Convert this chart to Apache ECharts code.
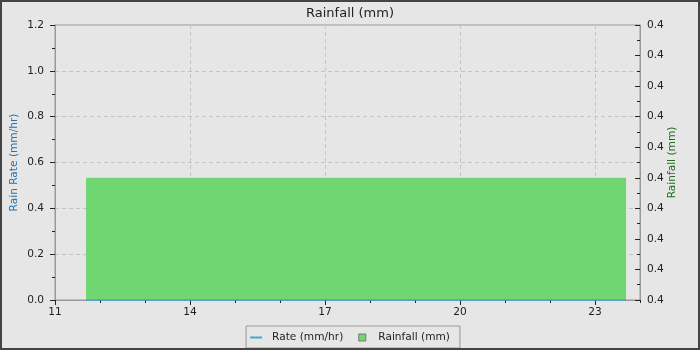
<!DOCTYPE html>
<html>
<head>
<meta charset="utf-8">
<script src="https://cdn.jsdelivr.net/npm/echarts@6/dist/echarts.min.js"></script>
<style>
html,body{margin:0;padding:0;background:#e6e6e6;}
#chart{width:700px;height:350px;}
</style>
</head>
<body>
<div id="chart"></div>
<script>
// ---- data ----
var titleText = 'Rainfall (mm)';
var xTickLabels = [11, 14, 17, 20, 23];
// rainfall periods: [start hour, end hour, rainfall mm]
var rainStart = [11.69];
var rainEnd = [23.69];
var rainValue = [0.4];
// rain rate samples
var rateHours = [11.69, 12, 13, 14, 15, 16, 17, 18, 19, 20, 21, 22, 23, 23.69];
var rateValues = [0, 0, 0, 0, 0, 0, 0, 0, 0, 0, 0, 0, 0, 0];
var leftMin = 0, leftMax = 1.2, leftStep = 0.2;
var rightMin = 0.396, rightMax = 0.405, rightStep = 0.001;

var FONT = 'DejaVu Sans';
var FS = 10.6;
var rainData = rainStart.map(function(s, i){ return [s, rainEnd[i], rainValue[i]]; });
var rateData = rateHours.map(function(h, i){ return [h, rateValues[i]]; });

var chart = echarts.init(document.getElementById('chart'));
chart.setOption({
  backgroundColor: '#e6e6e6',
  animation: false,
  textStyle: {fontFamily: FONT},
  title: {
    text: titleText, left: 'center', top: 2,
    textStyle: {fontFamily: FONT, fontSize: 13, fontWeight: 'normal', color: '#222'}
  },
  graphic: [{
    type: 'rect', silent: true, z: 100,
    shape: {x: 1, y: 1, width: 698, height: 348},
    style: {fill: 'none', stroke: '#444', lineWidth: 2}
  }],
  legend: {
    bottom: 2, left: 'center',
    padding: [6, 10, 5, 4],
    itemGap: 15, itemWidth: 12, itemHeight: 7,
    borderColor: '#999', borderWidth: 1, backgroundColor: '#e6e6e6',
    textStyle: {fontFamily: FONT, fontSize: FS, color: '#222', padding: [0, 0, 0, 5]},
    data: [
      {name: 'Rate (mm/hr)', icon: 'path://M0,0h12v2h-12z', itemStyle: {color: '#4aa3d6'}},
      {name: 'Rainfall (mm)', icon: 'path://M0,0h10v10h-10z', itemStyle: {color: '#70d672', borderColor: '#777', borderWidth: 1}}
    ]
  },
  grid: {left: 55, right: 60, top: 25, bottom: 50, outerBoundsMode: 'none', containLabel: false,
    show: true, borderColor: '#999', borderWidth: 1, backgroundColor: 'transparent'},
  xAxis: [{
    type: 'value', min: 11, max: 24, interval: 3,
    axisLine: {show: true, lineStyle: {color: '#999'}},
    axisTick: {show: true, length: 5, lineStyle: {color: '#222'}, customValues: xTickLabels},
    axisLabel: {fontFamily: FONT, fontSize: FS, color: '#222', margin: 7, customValues: xTickLabels},
    splitLine: {show: true, lineStyle: {color: '#c4c4c4', type: [4, 3]}}
  }, {
    type: 'value', min: 11, max: 24, interval: 1, position: 'bottom',
    axisLine: {show: false},
    axisTick: {show: true, length: 3, lineStyle: {color: '#222'}},
    axisLabel: {show: false},
    splitLine: {show: false}
  }],
  yAxis: [{
    type: 'value', min: leftMin, max: leftMax, interval: leftStep, position: 'left',
    name: 'Rain Rate (mm/hr)', nameLocation: 'middle', nameRotate: 90, nameGap: 35,
    nameMoveOverlap: false,
    nameTextStyle: {fontFamily: FONT, fontSize: FS, color: '#2a72a8'},
    axisLine: {show: true, lineStyle: {color: '#999'}},
    axisTick: {show: true, length: 5, lineStyle: {color: '#222'}},
    minorTick: {show: true, splitNumber: 2, length: 3, lineStyle: {color: '#222'}},
    axisLabel: {fontFamily: FONT, fontSize: FS, color: '#222', margin: 11,
      formatter: function(v){ return v.toFixed(1); }},
    splitLine: {show: true, lineStyle: {color: '#c4c4c4', type: [4, 3]}}
  }, {
    type: 'value', min: rightMin, max: rightMax, interval: rightStep, position: 'right',
    name: 'Rainfall (mm)', nameLocation: 'middle', nameRotate: 90, nameGap: 27,
    nameMoveOverlap: false,
    nameTextStyle: {fontFamily: FONT, fontSize: FS, color: '#1e6b1e'},
    axisLine: {show: true, lineStyle: {color: '#999'}},
    axisTick: {show: true, inside: true, length: 5, lineStyle: {color: '#222'}},
    minorTick: {show: true, splitNumber: 2, length: 3, lineStyle: {color: '#222'}},
    axisLabel: {fontFamily: FONT, fontSize: FS, color: '#222', margin: 7,
      formatter: function(v){ return v.toFixed(1); }},
    splitLine: {show: false}
  }],
  series: [{
    name: 'Rainfall (mm)', type: 'custom', xAxisIndex: 0, yAxisIndex: 1,
    encode: {x: [0, 1], y: 2},
    itemStyle: {color: '#70d672'},
    renderItem: function(params, api){
      var p0 = api.coord([api.value(0), api.value(2)]);
      var p1 = api.coord([api.value(1), rightMin]);
      return {type: 'rect', shape: {x: p0[0], y: p0[1], width: p1[0] - p0[0], height: p1[1] - p0[1]},
        style: api.style({fill: '#70d672', stroke: null})};
    },
    data: rainData, z: 2
  }, {
    name: 'Rate (mm/hr)', type: 'line', xAxisIndex: 0, yAxisIndex: 0,
    symbol: 'none', clip: false, lineStyle: {color: '#4aa3d6', width: 1.5},
    itemStyle: {color: '#4aa3d6'},
    data: rateData, z: 10
  }]
});
</script>
</body>
</html>
